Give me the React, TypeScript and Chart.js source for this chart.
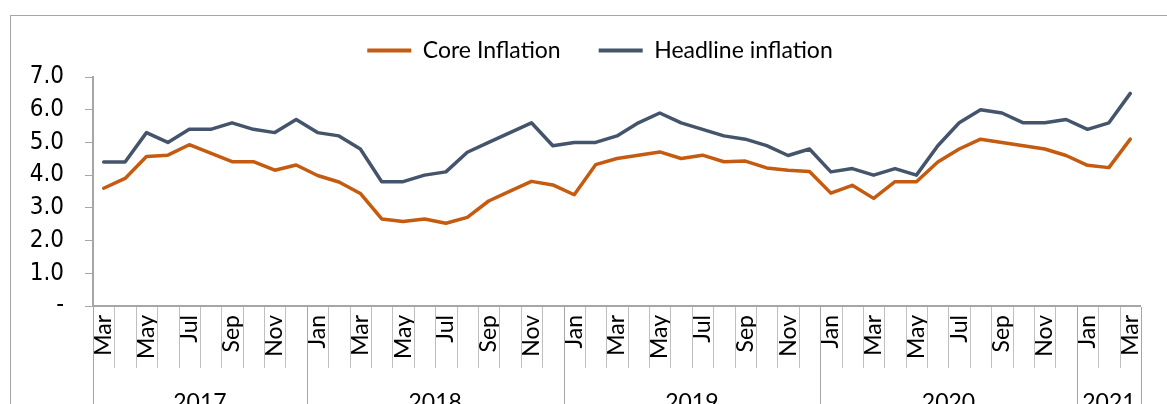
import React, { useEffect, useRef } from "react";
import { Chart, registerables } from "chart.js";

Chart.register(...registerables);

// ---- data ----
const categories = [
  "Mar", "Apr", "May", "Jun", "Jul", "Aug", "Sep", "Oct", "Nov", "Dec",
  "Jan", "Feb", "Mar", "Apr", "May", "Jun", "Jul", "Aug", "Sep", "Oct", "Nov", "Dec",
  "Jan", "Feb", "Mar", "Apr", "May", "Jun", "Jul", "Aug", "Sep", "Oct", "Nov", "Dec",
  "Jan", "Feb", "Mar", "Apr", "May", "Jun", "Jul", "Aug", "Sep", "Oct", "Nov", "Dec",
  "Jan", "Feb", "Mar",
];

const categoryYears = [
  "2017", "2017", "2017", "2017", "2017", "2017", "2017", "2017", "2017", "2017",
  "2018", "2018", "2018", "2018", "2018", "2018", "2018", "2018", "2018", "2018", "2018", "2018",
  "2019", "2019", "2019", "2019", "2019", "2019", "2019", "2019", "2019", "2019", "2019", "2019",
  "2020", "2020", "2020", "2020", "2020", "2020", "2020", "2020", "2020", "2020", "2020", "2020",
  "2021", "2021", "2021",
];

const coreInflation = [
  3.6, 3.9, 4.57, 4.61, 4.93, 4.67, 4.41, 4.41, 4.15, 4.31,
  3.99, 3.79, 3.44, 2.66, 2.58, 2.66, 2.53, 2.71, 3.21, 3.51, 3.81, 3.7,
  3.4, 4.32, 4.51, 4.61, 4.71, 4.51, 4.61, 4.41, 4.43, 4.22, 4.15, 4.11,
  3.45, 3.69, 3.29, 3.8, 3.8, 4.4, 4.8, 5.1, 5.0, 4.9, 4.8, 4.6,
  4.3, 4.23, 5.1,
];

const headlineInflation = [
  4.4, 4.4, 5.3, 5.0, 5.4, 5.4, 5.6, 5.4, 5.3, 5.7,
  5.3, 5.2, 4.8, 3.8, 3.8, 4.0, 4.1, 4.7, 5.0, 5.3, 5.6, 4.9,
  5.0, 5.0, 5.2, 5.6, 5.9, 5.6, 5.4, 5.2, 5.1, 4.9, 4.6, 4.8,
  4.1, 4.2, 4.0, 4.2, 4.0, 4.9, 5.6, 6.0, 5.9, 5.6, 5.6, 5.7,
  5.4, 5.6, 6.5,
];

const yMin = 0;
const yMax = 7;
const yStep = 1;

const seriesNames = ["Core Inflation", "Headline inflation"];
const seriesColors = ["#C55A11", "#44546A"];

const LABEL_FONT = "Lato, 'Open Sans', sans-serif";
const NUM_FONT = "'Liberation Sans Narrow', 'DejaVu Sans Condensed', 'Liberation Sans', sans-serif";

const axisDecor = {
  id: "axisDecor",
  afterLayout(chart: any) {
    // let the y tick labels use the space left of the layout padding
    const ys = chart.scales.y;
    ys.left = 0;
  },
  beforeDraw(chart: any) {
    const ctx = chart.ctx;
    ctx.save();
    ctx.strokeStyle = "#A6A6A6";
    ctx.lineWidth = 1;
    ctx.strokeRect(10.5, 15.5, chart.width + 200, chart.height + 200);
    ctx.restore();
  },
  afterDraw(chart: any) {
    const ctx = chart.ctx;
    const xs = chart.scales.x;
    const area = chart.chartArea;
    const n = categories.length;
    const half = (xs.getPixelForValue(1) - xs.getPixelForValue(0)) / 2;
    const edge = (i: number) =>
      i < n ? xs.getPixelForValue(i) - half : xs.getPixelForValue(n - 1) + half;
    ctx.save();
    ctx.lineWidth = 1;
    for (let i = 0; i <= n; i++) {
      const isYear = i === 0 || i === n || categoryYears[i] !== categoryYears[i - 1];
      const px = Math.round(edge(i)) + 0.5;
      ctx.strokeStyle = isYear ? "#A6A6A6" : "#BFBFBF";
      ctx.beginPath();
      ctx.moveTo(px, area.bottom + 1);
      ctx.lineTo(px, isYear ? chart.height : area.bottom + 62);
      ctx.stroke();
    }
    // year labels
    ctx.fillStyle = "#000";
    ctx.font = `23px ${LABEL_FONT}`;
    ctx.textAlign = "center";
    ctx.textBaseline = "top";
    let start = 0;
    for (let i = 1; i <= n; i++) {
      if (i === n || categoryYears[i] !== categoryYears[start]) {
        const cx = (edge(start) + edge(i)) / 2;
        ctx.fillText(categoryYears[start], cx, 391);
        start = i;
      }
    }
    ctx.restore();
  },
};

export default function App() {
  const canvasRef = useRef<HTMLCanvasElement | null>(null);

  useEffect(() => {
    const canvas = canvasRef.current;
    if (!canvas) return;
    const chart = new Chart(canvas, {
      type: "line",
      data: {
        labels: categories,
        datasets: [
          {
            label: seriesNames[0],
            data: coreInflation,
            borderColor: seriesColors[0],
            backgroundColor: seriesColors[0],
            borderWidth: 3.5,
            pointRadius: 0,
            pointHoverRadius: 0,
            tension: 0,
            borderCapStyle: "round",
            borderJoinStyle: "round",
          },
          {
            label: seriesNames[1],
            data: headlineInflation,
            borderColor: seriesColors[1],
            backgroundColor: seriesColors[1],
            borderWidth: 3.5,
            pointRadius: 0,
            pointHoverRadius: 0,
            tension: 0,
            borderCapStyle: "round",
            borderJoinStyle: "round",
          },
        ],
      },
      options: {
        responsive: false,
        animation: false,
        devicePixelRatio: 1,
        layout: { padding: { left: 44, right: 11, top: 1, bottom: 0 } },
        plugins: {
          tooltip: { enabled: false },
          title: {
            display: true,
            text: "",
            padding: 0,
            weight: 500,
            font: { size: 5, lineHeight: 1 },
          } as any,
          legend: {
            display: true,
            position: "top",
            align: "center",
            labels: {
              boxWidth: 44,
              boxHeight: 4,
              padding: 38,
              color: "#000",
              font: { family: LABEL_FONT, size: 23 },
              generateLabels: (ch: any) =>
                Chart.defaults.plugins.legend.labels
                  .generateLabels(ch)
                  .map((l: any) => ({ ...l, fillStyle: l.strokeStyle, lineWidth: 0 })),
            },
          },
        },
        scales: {
          x: {
            type: "category",
            offset: true,
            grid: { display: false, drawTicks: false },
            border: { display: true, color: "#A6A6A6", width: 2 },
            ticks: {
              autoSkip: false,
              minRotation: 90,
              maxRotation: 90,
              padding: 9,
              color: "#000",
              font: { family: LABEL_FONT, size: 23 },
              callback: (_v: any, i: number) => (i % 2 === 0 ? categories[i] : ""),
            },
            afterFit: (s: any) => {
              s.height = 98;
            },
          },
          y: {
            min: yMin,
            max: yMax,
            grid: {
              display: true,
              drawOnChartArea: false,
              drawTicks: true,
              tickLength: 8,
              color: "#A6A6A6",
              lineWidth: 1,
            },
            border: { display: true, color: "#A6A6A6", width: 2 },
            ticks: {
              stepSize: yStep,
              padding: 21,
              color: "#000",
              font: { family: NUM_FONT, size: 24 },
              callback: (v: any) => (Number(v) === 0 ? "-" : Number(v).toFixed(1)),
            },
            afterFit: (s: any) => {
              s.width = 49;
            },
          },
        },
      },
      plugins: [axisDecor],
    } as any);
    return () => chart.destroy();
  }, []);

  return (
    <div style={{ position: "absolute", left: 0, top: 0, width: 1167, height: 404, background: "#fff" }}>
      <canvas ref={canvasRef} width={1167} height={404} style={{ display: "block" }} />
    </div>
  );
}
